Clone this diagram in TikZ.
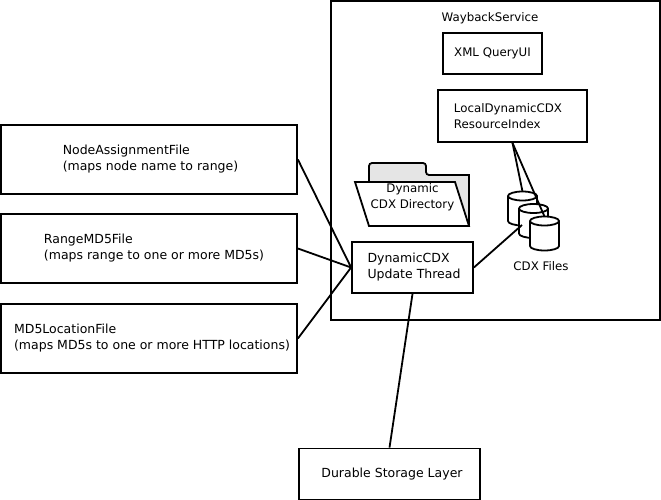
\documentclass[tikz,border=0pt]{standalone}
\usepackage{fontspec}
\setmainfont{DejaVu Sans}

\begin{document}
\begin{tikzpicture}[x=1pt,y=-1pt,line width=1.8pt,
                    every node/.style={font=\fontsize{12.5}{16}\selectfont},
                    small text/.style={font=\fontsize{11.8}{16}\selectfont},
                    main node/.style={rectangle,draw,align=left,inner sep=0pt},
                    file node/.style={main node,minimum width=296pt,minimum height=69pt},
                    thread node/.style={main node,minimum height=51pt}]

  \useasboundingbox (0,0) rectangle (661,500);

  \node[main node,minimum width=329pt,minimum height=319pt] (service) at (495.5,160.5) {};
  \node[small text] (title) at (490,18) {WaybackService};
  \node[main node,small text,minimum width=99pt,minimum height=41pt] (query) at (492.5,53.5) {XML QueryUI};
  \node[main node,small text,minimum width=149pt,minimum height=52pt] (local) at (512.5,116) {LocalDynamicCDX\hspace*{9pt}\\ResourceIndex};

  \node[file node] (assign) at (149,159.5) {\hspace*{3pt}NodeAssignmentFile\\\hspace*{3pt}(maps node name to range)};
  \node[file node,node distance=89pt] (range)  [below of=assign] {\hspace*{10pt}RangeMD5File\\\hspace*{10pt}(maps range to one or more MD5s)};
  \node[file node,node distance=90pt] (location) [below of=range] {\hspace*{6pt}MD5LocationFile\\\hspace*{6pt}(maps MD5s to one or more HTTP locations)};

  \node[thread node,minimum width=121pt] (thread) at (412.5,267.5) {\hspace*{3pt}DynamicCDX\\\hspace*{3pt}Update Thread};
  \node[thread node,minimum width=181pt] (durable) at (389.5,474) {\hspace*{5pt}Durable Storage Layer};

  % folder
  \draw[fill=black!10,rounded corners=3pt] (369,182) -- (369,163) -- (426,163) -- (426,175) [sharp corners] -- (469,175) -- (469,226) -- (400,226);
  \draw[fill=white] (355,182) -- (455,182) -- (469,226) -- (369,226) -- cycle;
  \node[small text,align=center] (folder) at (412.5,197) {Dynamic\\CDX Directory};

  % disks
  \foreach \name/\x/\y in {cdx1/522.5/208.5,cdx2/533.5/221,cdx3/544.5/233.5} {
    \draw[fill=white] (\x-14.5,\y-12.5) -- (\x-14.5,\y+12.5)
      arc[start angle=180,end angle=360,x radius=14.5pt,y radius=4.5pt] -- (\x+14.5,\y-12.5)
      arc[start angle=0,end angle=180,x radius=14.5pt,y radius=4.5pt] -- cycle;
    \draw (\x-14.5,\y-12.5) arc[start angle=180,end angle=360,x radius=14.5pt,y radius=4.5pt];
    \coordinate (\name) at (\x,\y-17);
  }
  \coordinate (cdxside) at (522,225);
  \node[small text] (files) at (541,266) {CDX Files};

  \path (assign.east) edge (thread.west)
    (range.east) edge (thread.west)
    (location.east) edge (thread.west)
    (thread.east) edge (cdxside)
    (thread.south) edge (durable.north)
    (local.south) edge (cdx1)
    (local.south) edge (cdx3);
\end{tikzpicture}
\end{document}
